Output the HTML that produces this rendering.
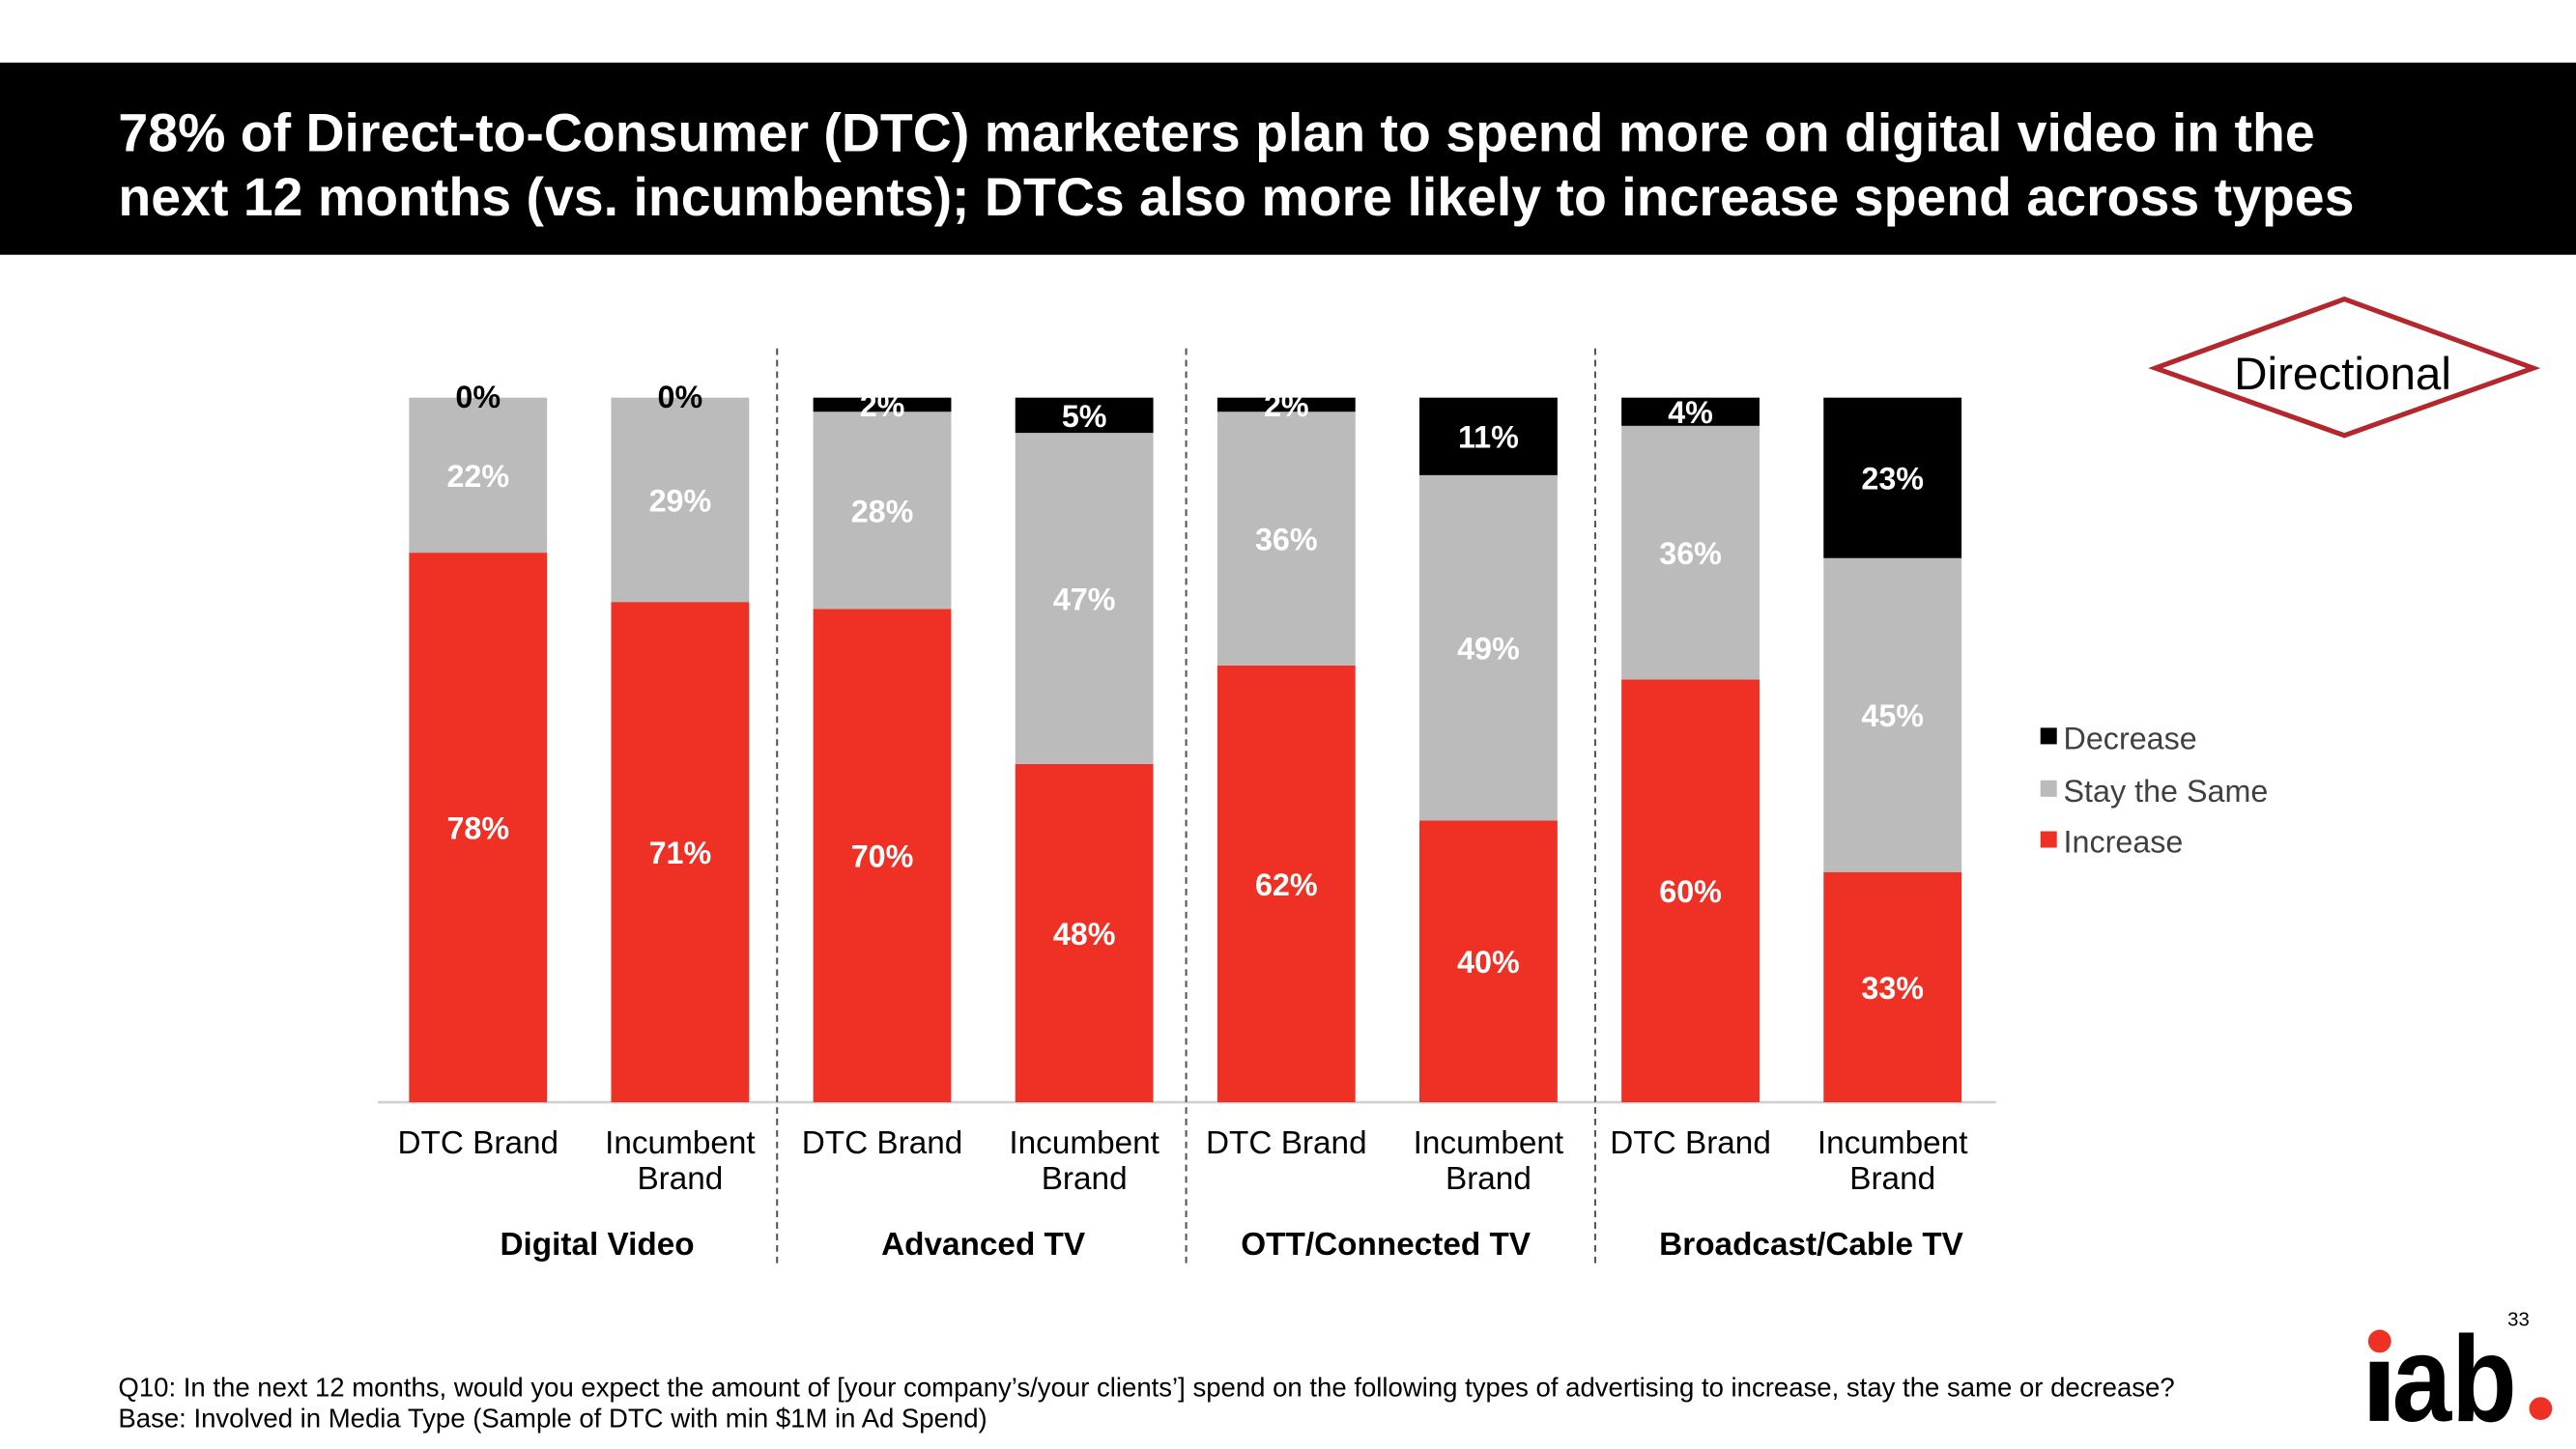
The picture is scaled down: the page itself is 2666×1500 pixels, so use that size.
<!DOCTYPE html>
<html><head><meta charset="utf-8"><style>
html,body{margin:0;padding:0;background:#fff;}
svg{display:block;font-family:"Liberation Sans",Arial,sans-serif;}
</style></head><body>
<svg id="chart" width="2666" height="1500" viewBox="0 0 1568 882">
<rect x="0" y="38" width="1568" height="117" fill="#000"/>
<text x="72" y="92" fill="#fff" font-size="32.5" font-weight="bold" textLength="1337" lengthAdjust="spacingAndGlyphs">78% of Direct-to-Consumer (DTC) marketers plan to spend more on digital video in the</text>
<text x="72" y="131" fill="#fff" font-size="32.5" font-weight="bold" textLength="1361" lengthAdjust="spacingAndGlyphs">next 12 months (vs. incumbents); DTCs also more likely to increase spend across types</text>

<g>
<polygon points="1312,224 1427,182 1542,224 1427,265" fill="#fff" stroke="#b3282d" stroke-width="3"/>
<text x="1426" y="237" font-size="28" text-anchor="middle" fill="#000">Directional</text>
</g>

<g id="plot"></g>

<g>
<rect x="1242" y="443" width="10" height="10" fill="#000"/>
<text x="1256" y="456" font-size="19" fill="#404040">Decrease</text>
<rect x="1242" y="475" width="10" height="10" fill="#bbbbbb"/>
<text x="1256" y="488" font-size="19" fill="#404040">Stay the Same</text>
<rect x="1242" y="506" width="10" height="10" fill="#ee3124"/>
<text x="1256" y="519" font-size="19" fill="#404040">Increase</text>
</g>

<text x="72" y="850" font-size="16.2" fill="#000">Q10: In the next 12 months, would you expect the amount of [your company’s/your clients’] spend on the following types of advertising to increase, stay the same or decrease?</text>
<text x="72" y="869" font-size="16.2" fill="#000">Base: Involved in Media Type (Sample of DTC with min $1M in Ad Spend)</text>
<text x="1533" y="807" font-size="12" text-anchor="middle" fill="#000">33</text>
<g>
<circle cx="1448.5" cy="816.5" r="7" fill="#ee3124"/>
<rect x="1442.5" y="829" width="11.5" height="36" fill="#000"/>
<text x="1456" y="865" font-size="74" font-weight="bold" fill="#000" textLength="76" lengthAdjust="spacingAndGlyphs">ab</text>
<circle cx="1546.5" cy="857.5" r="7" fill="#ee3124"/>
</g>
</svg>
<script>
const categories = ["DTC Brand","Incumbent Brand","DTC Brand","Incumbent Brand","DTC Brand","Incumbent Brand","DTC Brand","Incumbent Brand"];
const groups = ["Digital Video","Advanced TV","OTT/Connected TV","Broadcast/Cable TV"];
const increase = [78,71,70,48,62,40,60,33];
const stay = [22,29,28,47,36,49,36,45];
const decrease = [0,0,2,5,2,11,4,23];

const NS = "http://www.w3.org/2000/svg";
const plot = document.getElementById("plot");
const baseY = 671, fullH = 429, x0 = 291, step = 123, bw = 84;
const xCenter = i => x0 + i * step;
function mk(tag, attrs){ const e = document.createElementNS(NS, tag); for (const k in attrs) e.setAttribute(k, attrs[k]); plot.appendChild(e); return e; }

const axis = mk("line",{x1:230,x2:1215,y1:baseY,y2:baseY,stroke:"#d0d0d0","stroke-width":1.5});



const sepOffsets = [-2.5, 0.5, 3.5];
for (let g = 1; g < groups.length; g++) {
  const sx = (xCenter(2*g-1) + xCenter(2*g)) / 2 + sepOffsets[g-1];
  const d = mk("line",{x1:sx,x2:sx,y1:212,y2:772,stroke:"#555","stroke-width":1.2,"stroke-dasharray":"4,3"});
  
  
}

const series = [
  {name:"increase", vals:increase, color:"#ee3124"},
  {name:"stay", vals:stay, color:"#bbbbbb"},
  {name:"decrease", vals:decrease, color:"#000000"}
];
categories.forEach((cat, i) => {
  const cx = xCenter(i);
  const total = increase[i] + stay[i] + decrease[i];
  let y = baseY;
  series.forEach(s => {
    const h = s.vals[i] / total * fullH;
    const top = y - h;
    const r = mk("rect",{x:cx-bw/2,y:top,width:bw,height:Math.max(h,0),fill:s.color});
    
    
    let ly = top + h/2 + 7;
    let fill = "#fff";
    if (s.vals[i] === 0) { fill = "#000"; ly = top + 6; }
    const t = mk("text",{x:cx,y:ly,"font-size":19,"font-weight":"bold","text-anchor":"middle",fill:fill});
    t.textContent = s.vals[i] + "%";
    
    
    y = top;
  });
  const words = cat.split(" ");
  if (words[0] === "Incumbent") {
    const t1 = mk("text",{x:cx,y:702,"font-size":19.6,"text-anchor":"middle",fill:"#000"});
    t1.textContent = "Incumbent";
    
    
    const t2 = mk("text",{x:cx,y:724,"font-size":19.6,"text-anchor":"middle",fill:"#000"});
    t2.textContent = "Brand";
    
    
  } else {
    const t = mk("text",{x:cx,y:702,"font-size":19.6,"text-anchor":"middle",fill:"#000"});
    t.textContent = cat;
    
    
  }
});
const groupOffsets = [11, 0, -1, 12];
groups.forEach((g, gi) => {
  const gx = (xCenter(2*gi) + xCenter(2*gi+1)) / 2 + groupOffsets[gi];
  const t = mk("text",{x:gx,y:764,"font-size":19.6,"font-weight":"bold","text-anchor":"middle",fill:"#000"});
  t.textContent = g;
  
  
});
</script>
</body></html>
